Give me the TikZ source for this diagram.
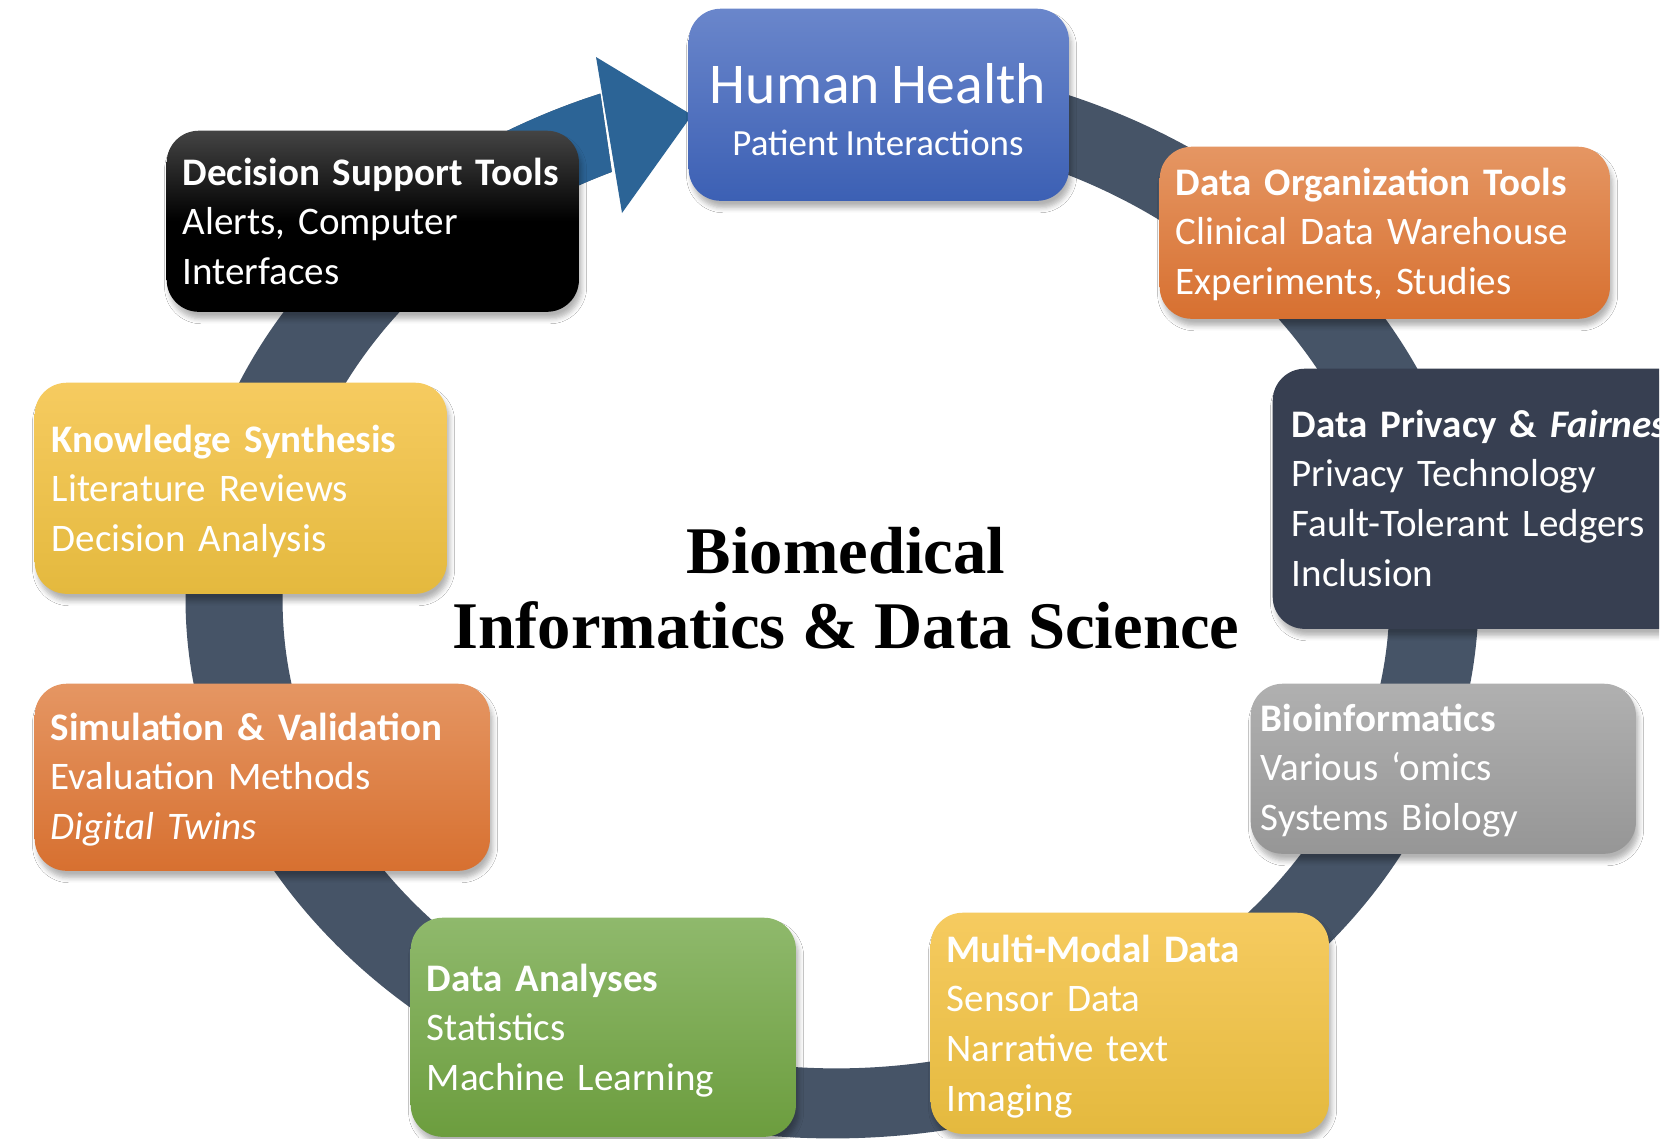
\documentclass[tikz,border=0pt]{standalone}
\usepackage{fontspec}
\setmainfont[WordSpace=0.85]{Carlito}
\newfontfamily\titlefont{Liberation Serif}
\usetikzlibrary{calc,shadows.blur}

\definecolor{ringslate}{RGB}{70,84,103}
\definecolor{arrowblue}{RGB}{44,100,150}
\definecolor{hhtop}{RGB}{106,134,203}
\definecolor{hhbot}{RGB}{60,96,180}
\definecolor{dsttop}{RGB}{68,68,68}
\definecolor{dstbot}{RGB}{0,0,0}
\definecolor{orgtop}{RGB}{229,150,99}
\definecolor{orgbot}{RGB}{215,112,48}
\definecolor{privfill}{RGB}{55,63,81}
\definecolor{yeltop}{RGB}{246,203,96}
\definecolor{yelbot}{RGB}{228,185,62}
\definecolor{greytop}{RGB}{176,176,176}
\definecolor{greybot}{RGB}{150,150,150}
\definecolor{grntop}{RGB}{143,185,108}
\definecolor{grnbot}{RGB}{108,157,62}

\begin{document}
\begin{tikzpicture}[x=0.01cm,y=-0.01cm,
  card/.style={rounded corners=0.32cm, inner sep=0pt, anchor=north west,
    blur shadow={shadow xshift=0.8pt, shadow yshift=-2pt,
      shadow blur steps=5, shadow blur radius=1.4pt, shadow opacity=30}},
  cardtext/.style={text=white, anchor=base west, inner sep=0pt,
    text width=6cm, align=left,
    font=\fontsize{11.1pt}{14.2pt}\selectfont},
  titletext/.style={anchor=base, inner sep=0pt,
    font=\titlefont\bfseries\fontsize{18.95pt}{22pt}\selectfont},
]
% canvas
\fill[white] (0,0) rectangle (1672,1138);
\useasboundingbox (0,0) rectangle (1672,1138);

% centres of the outer and inner edge of the cycle band
\coordinate (Co) at (832,598);
\coordinate (Ci) at (836,600);

% the cycle band, running clockwise from behind the top card
\fill[ringslate]
  ($(Co)+(80:6.46cm and 5.40cm)$)
  arc[start angle=80, end angle=-249, x radius=6.46cm, y radius=5.40cm]
  -- ($(Ci)+(-246.1:5.53cm and 4.68cm)$)
  arc[start angle=-246.1, end angle=80, x radius=5.53cm, y radius=4.68cm]
  -- cycle;

% blue final stretch and arrow head
\fill[arrowblue]
  ($(Co)+(123:6.46cm and 5.40cm)$)
  arc[start angle=123, end angle=111, x radius=6.46cm, y radius=5.40cm]
  -- ($(Ci)+(113.9:5.53cm and 4.68cm)$)
  arc[start angle=113.9, end angle=124, x radius=5.53cm, y radius=4.68cm]
  -- cycle;
\coordinate (barbA) at (596,57);
\coordinate (tip) at (692,115);
\coordinate (barbB) at (622,213);
\fill[arrowblue] (barbA) -- (tip) -- (barbB) -- cycle;

% centre title
\node[titletext] (title1) at (846,573) {Biomedical};
\node[titletext] (title2) at (846,648) {Informatics \& Data Science};

% top card
\node[card, top color=hhtop, bottom color=hhbot,
      minimum width=3.80cm, minimum height=1.92cm] (hh) at (688,8) {};
\node[text=white, anchor=base, inner sep=0pt,
      font=\fontsize{16.4pt}{18pt}\selectfont] (hhT1) at (878,103) {Human Health};
\node[text=white, anchor=base, inner sep=0pt,
      font=\fontsize{10.5pt}{12pt}\selectfont] (hhT2) at (878,155) {Patient Interactions};

% decision support
\node[card, top color=dsttop, bottom color=dstbot, middle color=dstbot,
      minimum width=4.12cm, minimum height=1.81cm] (dst) at (166,130) {};
\node[cardtext] (dstT) at (182,185)
  {\textbf{Decision Support Tools}\\Alerts, Computer\\Interfaces};

% data organisation
\node[card, top color=orgtop, bottom color=orgbot,
      minimum width=4.50cm, minimum height=1.72cm] (org) at (1159,146) {};
\node[cardtext] (orgT) at (1175,195)
  {\textbf{Data Organization Tools}\\Clinical Data Warehouse\\Experiments, Studies};

% data privacy, running off the right edge
\begin{scope}
  \clip (0,0) rectangle (1659,1138);
  \node[card, fill=privfill,
        minimum width=4.40cm, minimum height=2.60cm] (priv) at (1272,368) {};
  \node[cardtext] (privT) at (1291,437)
    {\textbf{Data Privacy \& \textit{Fairness}}\\Privacy Technology\\Fault-Tolerant Ledgers\\Inclusion};
\end{scope}

% knowledge synthesis
\node[card, top color=yeltop, bottom color=yelbot,
      minimum width=4.12cm, minimum height=2.11cm] (know) at (34,382) {};
\node[cardtext] (knowT) at (51,452)
  {\textbf{Knowledge Synthesis}\\Literature Reviews\\Decision Analysis};

% bioinformatics
\node[card, top color=greytop, bottom color=greybot,
      minimum width=3.85cm, minimum height=1.70cm] (bio) at (1250,683) {};
\node[cardtext] (bioT) at (1260,731)
  {\textbf{Bioinformatics}\\Various ‘omics\\Systems Biology};

% simulation and validation
\node[card, top color=orgtop, bottom color=orgbot,
      minimum width=4.55cm, minimum height=1.87cm] (sim) at (34,683) {};
\node[cardtext] (simT) at (50,740)
  {\textbf{Simulation \& Validation}\\Evaluation Methods\\\textit{Digital Twins}};

% data analyses
\node[card, top color=grntop, bottom color=grnbot,
      minimum width=3.85cm, minimum height=2.19cm] (ana) at (410,917) {};
\node[cardtext] (anaT) at (426,991)
  {\textbf{Data Analyses}\\Statistics\\Machine Learning};

% multi-modal data
\node[card, top color=yeltop, bottom color=yelbot,
      minimum width=3.98cm, minimum height=2.21cm] (mmd) at (930,912) {};
\node[cardtext] (mmdT) at (946,962)
  {\textbf{Multi-Modal Data}\\Sensor Data\\Narrative text\\Imaging};
\end{tikzpicture}
\end{document}
